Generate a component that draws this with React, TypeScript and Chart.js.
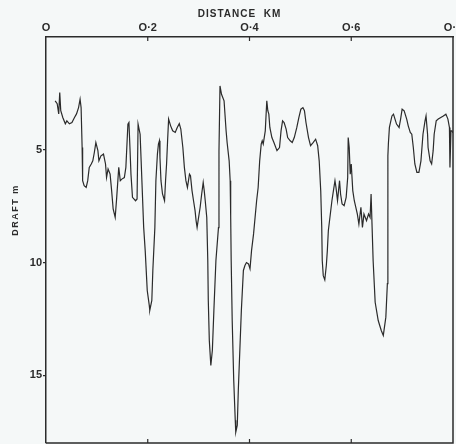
import React, { useEffect, useRef } from "react";
import { Chart, registerables } from "chart.js";

Chart.register(...registerables);

// Distance along track (km) and ice draft (m)
const distanceKm = [
  0.018, 0.022, 0.025, 0.027, 0.029, 0.033, 0.038, 0.041, 0.046, 0.051, 0.056, 0.060, 0.064, 0.067, 0.069,
  0.071, 0.072, 0.075, 0.079, 0.082, 0.085, 0.089, 0.092, 0.095, 0.098, 0.102, 0.104, 0.108, 0.113, 0.117,
  0.119, 0.122, 0.126, 0.129, 0.132, 0.136, 0.139, 0.143, 0.146, 0.149, 0.154, 0.157, 0.161, 0.163, 0.165,
  0.167, 0.170, 0.176, 0.179, 0.181, 0.185, 0.187, 0.189, 0.192, 0.195, 0.199, 0.203, 0.204, 0.208, 0.210,
  0.214, 0.216, 0.219, 0.221, 0.223, 0.224, 0.226, 0.229, 0.233, 0.235, 0.237, 0.239, 0.241, 0.245, 0.249,
  0.254, 0.258, 0.262, 0.265, 0.269, 0.272, 0.275, 0.278, 0.282, 0.284, 0.287, 0.290, 0.293, 0.295, 0.297,
  0.299, 0.303, 0.306, 0.309, 0.311, 0.313, 0.316, 0.318, 0.319, 0.321, 0.324, 0.327, 0.330, 0.334, 0.339,
  0.340, 0.342, 0.345, 0.350, 0.354, 0.356, 0.360, 0.362, 0.363, 0.364, 0.366, 0.369, 0.372, 0.373, 0.376,
  0.378, 0.381, 0.384, 0.388, 0.391, 0.394, 0.398, 0.401, 0.404, 0.408, 0.414, 0.417, 0.420, 0.423, 0.425,
  0.427, 0.431, 0.434, 0.436, 0.438, 0.440, 0.444, 0.448, 0.454, 0.459, 0.462, 0.465, 0.468, 0.472, 0.475,
  0.480, 0.484, 0.488, 0.493, 0.497, 0.501, 0.505, 0.508, 0.511, 0.516, 0.520, 0.525, 0.530, 0.534, 0.537,
  0.540, 0.542, 0.543, 0.545, 0.548, 0.551, 0.553, 0.555, 0.562, 0.565, 0.568, 0.570, 0.573, 0.575, 0.577,
  0.579, 0.582, 0.586, 0.590, 0.593, 0.594, 0.596, 0.598, 0.600, 0.603, 0.606, 0.609, 0.612, 0.615, 0.619,
  0.622, 0.625, 0.630, 0.634, 0.637, 0.639, 0.641, 0.643, 0.647, 0.653, 0.659, 0.663,
  0.668, 0.671, 0.672, 0.672, 0.672, 0.673, 0.675,
  0.680, 0.683, 0.686, 0.689, 0.694, 0.697, 0.700, 0.704, 0.709, 0.712, 0.716, 0.719, 0.722, 0.725, 0.729,
  0.733, 0.737, 0.741, 0.745, 0.747, 0.750, 0.751, 0.755, 0.758, 0.761, 0.763, 0.767, 0.771, 0.776, 0.781,
  0.786, 0.790, 0.793, 0.794, 0.796, 0.798, 0.800,
];

const draftM = [
  2.83, 2.96, 3.41, 2.46, 3.27, 3.57, 3.85, 3.72, 3.85, 3.79, 3.57, 3.41, 3.13, 2.76, 3.13,
  4.90, 6.37, 6.59, 6.67, 6.37, 5.78, 5.63, 5.49, 5.12, 4.68, 5.04, 5.49, 5.27, 5.19, 5.63,
  6.23, 5.85, 6.08, 6.81, 7.62, 8.00, 7.11, 5.78, 6.37, 6.30, 6.23, 5.78, 3.86, 3.79, 4.90,
  6.08, 7.11, 7.26, 7.18, 3.86, 4.31, 5.49, 6.67, 8.44, 9.47, 11.24, 11.90, 12.12, 11.68, 10.35,
  8.44, 6.37, 5.19, 4.75, 4.60, 5.34, 6.37, 6.96, 7.26, 6.37, 5.63, 4.60, 3.64, 3.94, 4.16,
  4.23, 4.01, 3.84, 4.08, 4.90, 5.78, 6.37, 6.67, 6.08, 6.15, 6.81, 7.26, 7.70, 8.14, 8.44,
  8.14, 7.55, 6.96, 6.45, 6.81, 7.26, 8.00, 9.91, 11.68, 13.45, 14.56, 13.89, 12.12, 9.91, 8.45,
  5.04, 2.17, 2.54, 2.83, 4.16, 4.68, 5.49, 6.37, 7.92, 9.91, 12.57, 15.22, 16.99, 17.52, 17.21,
  15.66, 13.89, 12.12, 10.35, 10.13, 10.0, 10.06, 10.28, 9.47, 8.73, 7.26, 6.67, 5.49, 4.75, 4.60,
  4.75, 4.16, 2.83, 3.27, 3.42, 4.01, 4.46, 4.68, 5.04, 4.90, 4.16, 3.72, 3.79, 4.08, 4.46,
  4.60, 4.68, 4.46, 4.01, 3.57, 3.20, 3.13, 3.27, 3.79, 4.46, 4.82, 4.68, 4.53, 4.82, 5.49,
  6.81, 8.44, 9.91, 10.58, 10.77, 10.13, 9.47, 8.58, 7.26, 6.81, 6.37, 6.67, 7.26, 6.81, 6.37,
  6.96, 7.40, 7.48, 7.11, 6.23, 4.46, 4.90, 6.08, 5.63, 6.81, 7.26, 7.55, 7.85, 8.29, 7.55,
  8.44, 7.85, 8.14, 7.85, 8.00, 6.96, 8.44, 9.91, 11.76, 12.57, 13.01, 13.23,
  12.42, 10.93, 9.47, 7.26, 5.27, 4.73, 4.01,
  3.50, 3.42, 3.64, 3.86, 4.01, 3.64, 3.20, 3.27, 3.64, 3.94, 4.23, 4.31, 4.90, 5.63, 6.00,
  6.00, 5.49, 4.31, 3.72, 3.50, 4.31, 4.90, 5.49, 5.63, 5.04, 4.31, 3.72, 3.64, 3.57, 3.50,
  3.42, 3.64, 4.01, 5.78, 4.16, 4.16, 4.25,
];

const xTickValues = [0, 0.2, 0.4, 0.6, 0.8];
const xTickLabels = ["O", "O·2", "O·4", "O·6", "O·8"];
const yTickValues = [5, 10, 15];
const yTickLabels = ["5", "10", "15"];
const xTitle = "DISTANCE  KM";
const yTitle = "DRAFT m";

const INK = "#2b2b2b";
const BG = "#f5f8f8";

const framePlugin = {
  id: "frame",
  afterDraw(chart: any) {
    const { ctx, chartArea: a, scales } = chart;
    const xs = scales.x;
    ctx.save();
    ctx.strokeStyle = INK;
    ctx.lineWidth = 1.5;
    ctx.beginPath();
    ctx.moveTo(a.right, a.top);
    ctx.lineTo(a.right, a.bottom);
    ctx.lineTo(a.left, a.bottom);
    ctx.stroke();
    // inward ticks on top and bottom edges
    ctx.lineWidth = 1.2;
    ctx.beginPath();
    xTickValues.slice(1, -1).forEach((v) => {
      const px = xs.getPixelForValue(v);
      ctx.moveTo(px, a.top);
      ctx.lineTo(px, a.top + 4);
      ctx.moveTo(px, a.bottom);
      ctx.lineTo(px, a.bottom - 4);
    });
    ctx.stroke();
    // titles
    ctx.fillStyle = INK;
    ctx.font = "bold 10px 'Liberation Sans', Arial, sans-serif";
    (ctx as any).letterSpacing = "1px";
    ctx.textAlign = "center";
    ctx.textBaseline = "middle";
    ctx.fillText(xTitle, (a.left + a.right) / 2 - 10, 14);
    ctx.translate(16, 210);
    ctx.rotate(-Math.PI / 2);
    ctx.font = "bold 9px 'Liberation Sans', Arial, sans-serif";
    (ctx as any).letterSpacing = "1.5px";
    ctx.fillText(yTitle, 0, 0);
    ctx.restore();
  },
};

export default function App() {
  const ref = useRef<HTMLCanvasElement | null>(null);

  useEffect(() => {
    if (!ref.current) return;
    const n = Math.min(distanceKm.length, draftM.length);
    const points = [];
    for (let i = 0; i < n; i++) points.push({ x: distanceKm[i], y: draftM[i] });

    const tickFont = { family: "'Liberation Sans', Arial, sans-serif", size: 11, weight: "bold" as const };

    const chart = new Chart(ref.current, {
      type: "line",
      data: {
        datasets: [
          {
            data: points,
            borderColor: INK,
            borderWidth: 1.2,
            pointRadius: 0,
            tension: 0,
            fill: false,
          },
        ],
      },
      options: {
        responsive: false,
        animation: false,
        layout: { padding: { left: 0, right: 3, top: 0, bottom: 1 } },
        plugins: {
          legend: { display: false },
          tooltip: { enabled: false },
          title: { display: false },
        },
        scales: {
          x: {
            type: "linear",
            position: "top",
            min: 0,
            max: 0.8,
            afterBuildTicks: (s: any) => {
              s.ticks = xTickValues.map((v) => ({ value: v }));
            },
            afterFit: (s: any) => {
              s.height = 37;
              s.paddingLeft = 0;
              s.paddingRight = 0;
            },
            ticks: {
              callback: (_v: any, i: number) => xTickLabels[i],
              font: tickFont,
              color: INK,
              padding: 2,
              maxRotation: 0,
              autoSkip: false,
            },
            grid: { display: true, drawOnChartArea: false, drawTicks: false, color: INK },
            border: { display: true, color: INK, width: 1.5 },
          },
          y: {
            type: "linear",
            reverse: true,
            min: 0,
            max: 18,
            afterBuildTicks: (s: any) => {
              s.ticks = yTickValues.map((v) => ({ value: v }));
            },
            afterFit: (s: any) => {
              s.width = 46;
              s.paddingTop = 0;
              s.paddingBottom = 0;
            },
            ticks: {
              callback: (_v: any, i: number) => yTickLabels[i],
              font: tickFont,
              color: INK,
              padding: 1,
              autoSkip: false,
            },
            grid: { display: true, drawOnChartArea: false, drawTicks: true, tickLength: 3, color: INK, lineWidth: 1.2 },
            border: { display: true, color: INK, width: 1.5 },
          },
        },
      },
      plugins: [framePlugin],
    });
    return () => chart.destroy();
  }, []);

  return (
    <div style={{ position: "fixed", left: 0, top: 0, width: 456, height: 444, background: BG }}>
      <canvas ref={ref} width={456} height={444} style={{ display: "block" }} />
    </div>
  );
}
